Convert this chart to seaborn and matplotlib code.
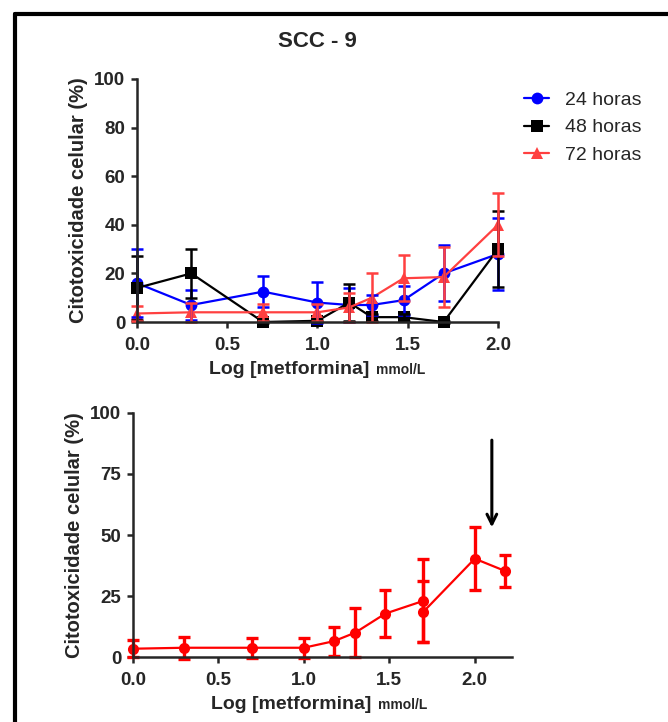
import numpy as np
import pandas as pd
import seaborn as sns
import matplotlib.pyplot as plt
from matplotlib.lines import Line2D

# log10 of metformin concentration (mmol/L)
log_met = [0.0, 0.301, 0.699, 1.0, 1.176, 1.301, 1.477, 1.699, 2.0]

h24 = [16, 7, 12.5, 8, 7, 7, 9, 20, 28]
h24_err = [14, 6, 6.5, 8.5, 7, 4, 6, 11.5, 15]
h48 = [14, 20, 0, 0.5, 8, 2, 2, 0, 30]
h48_err = [13, 10, 0.5, 0.5, 7.5, 1.5, 1.5, 0.3, 15.5]
h72 = [3.5, 4, 4, 4, 6, 10, 18, 18.5, 40]
h72_err = [3, 4, 3.5, 3.5, 6, 10, 9.5, 12.5, 13]

# second panel (72 h with extra points)
log_met2 = [0.0, 0.301, 0.699, 1.0, 1.176, 1.301, 1.477, 1.699, 1.699, 2.0, 2.176]
cit2 = [3.4, 3.8, 3.8, 3.8, 6.5, 10, 17.8, 23, 18.5, 40.3, 35.3]
cit2_err = [3.5, 4.5, 4, 4, 6, 10, 9.5, 17, 12.5, 13, 6.5]

series = ["24 horas", "48 horas", "72 horas"]
cores = {"24 horas": "#0000ff", "48 horas": "#000000", "72 horas": "#ff4040"}
marcas = {"24 horas": "o", "48 horas": "s", "72 horas": "^"}

df = pd.concat([
    pd.DataFrame({"log": log_met, "cit": v, "err": e, "serie": s})
    for s, v, e in zip(series, [h24, h48, h72], [h24_err, h48_err, h72_err])
], ignore_index=True)
df2 = pd.DataFrame({"log": log_met2, "cit": cit2, "err": cit2_err})

sns.set_style("ticks")
plt.rcParams["font.family"] = ["Liberation Sans", "DejaVu Sans"]
plt.rcParams["axes.linewidth"] = 1.8

fig = plt.figure(figsize=(6.68, 7.22), dpi=100)
ax1 = fig.add_axes([0.205, 0.554, 0.5405, 0.3366])
ax2 = fig.add_axes([0.199, 0.090, 0.568, 0.338])

# top panel
sns.lineplot(data=df, x="log", y="cit", hue="serie", style="serie",
             palette=cores, markers=marcas, dashes=False, estimator=None,
             sort=False, lw=1.6, markersize=8.5, markeredgewidth=0,
             clip_on=False, ax=ax1)
for s in series:
    d = df[df.serie == s]
    ax1.errorbar(d["log"], d["cit"], yerr=d["err"], fmt="none", ecolor=cores[s],
                 elinewidth=1.8, capsize=4.5, capthick=1.8, clip_on=False)

ax1.set_xlim(0, 2.0)
ax1.set_ylim(0, 100)
ax1.set_xticks([0, 0.5, 1.0, 1.5, 2.0])
ax1.set_yticks([0, 20, 40, 60, 80, 100])
ax1.set_title("SCC - 9", fontsize=16, fontweight="bold", pad=23)
sns.move_legend(ax1, "upper left", bbox_to_anchor=(0.773, 0.884),
                bbox_transform=fig.transFigure, frameon=False, title=None,
                fontsize=14, handlelength=1.3, handletextpad=0.8,
                labelspacing=0.5, borderaxespad=0)

# bottom panel
sns.lineplot(data=df2, x="log", y="cit", color="#ff0000", marker="o",
             estimator=None, sort=False, lw=1.6, markersize=8,
             markeredgewidth=0, clip_on=False, ax=ax2)
ax2.errorbar(df2["log"], df2["cit"], yerr=df2["err"], fmt="none", ecolor="#ff0000",
             elinewidth=2.4, capsize=4.5, capthick=2.4, clip_on=False)
ax2.set_xlim(0, 2.22)
ax2.set_ylim(0, 100)
ax2.set_xticks([0, 0.5, 1.0, 1.5, 2.0])
ax2.set_yticks([0, 25, 50, 75, 100])
ax2.annotate("", xy=(2.1, 52), xytext=(2.1, 90),
             arrowprops=dict(arrowstyle="->,head_length=0.7,head_width=0.35", lw=2.2, color="k"))

for ax, lx in ((ax1, 0.422), (ax2, 0.417)):
    sns.despine(ax=ax)
    ax.tick_params(direction="out", length=4.5, width=1.8, labelsize=13.5, pad=4)
    ax.tick_params(axis="x", pad=6)
    for lab in ax.get_xticklabels() + ax.get_yticklabels():
        lab.set_fontweight("bold")
    ax.xaxis.set_major_formatter(plt.FormatStrFormatter("%.1f"))
    ax.set_ylabel("Citotoxicidade celular (%)", fontsize=14.5, fontweight="bold", labelpad=4)
    ax.set_xlabel("Log [metformina]", fontsize=14, fontweight="bold")
    ax.xaxis.set_label_coords(lx, -0.16)
    ax.annotate("mmol/L", xy=(1, 0.22), xycoords=ax.xaxis.label, xytext=(5, 0),
                textcoords="offset points", fontsize=10, fontweight="bold", va="baseline")

# frame lines of the original figure (left and top only)
fig.add_artist(Line2D([0.022, 0.022], [0, 0.981], transform=fig.transFigure, color="k", lw=3))
fig.add_artist(Line2D([0.022, 1.0], [0.981, 0.981], transform=fig.transFigure, color="k", lw=3))

fig.savefig("out.png", dpi=100)
